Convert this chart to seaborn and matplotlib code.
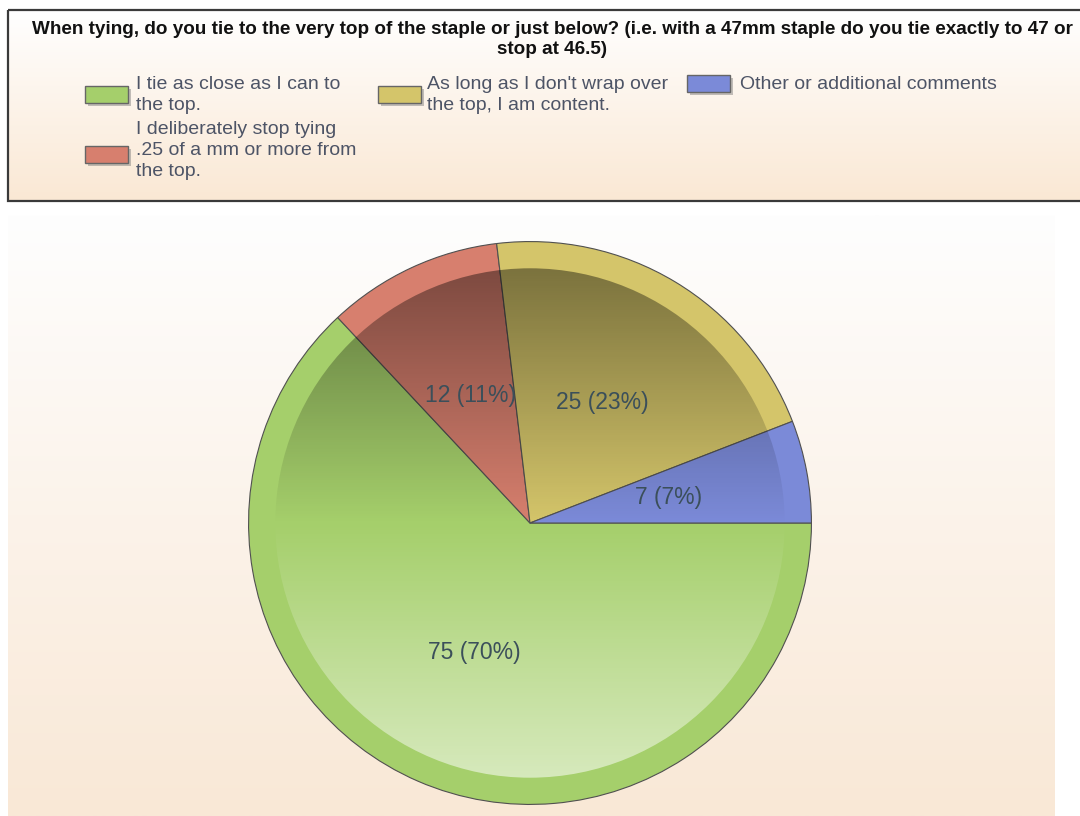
import numpy as np
import matplotlib
matplotlib.use("Agg")
import matplotlib.pyplot as plt
from matplotlib.patches import Rectangle, Circle
from matplotlib.colors import to_rgb
import seaborn as sns

# survey answers (multiple choice, 107 respondents)
answers = [
    "I tie as close as I can to\nthe top.",
    "I deliberately stop tying\n.25 of a mm or more from\nthe top.",
    "As long as I don't wrap over\nthe top, I am content.",
    "Other or additional comments",
]
counts = [75, 12, 25, 7]
respondents = 107
colors = ["#a5cf6b", "#d77f6e", "#d4c56a", "#7b8ad8"]
title = ("When tying, do you tie to the very top of the staple or just below? "
         "(i.e. with a 47mm staple do you tie exactly to 47 or\nstop at 46.5)")

sns.set_theme(style="white")
plt.rcParams["font.family"] = ["Liberation Sans", "DejaVu Sans"]
palette = sns.color_palette(colors)

fig = plt.figure(figsize=(10.8, 8.16), dpi=100)
fig.patch.set_facecolor("white")

# background layer in pixel coords
bg = fig.add_axes([0, 0, 1, 1])
bg.set_xlim(0, 1080)
bg.set_ylim(816, 0)
bg.axis("off")


def vgrad(ax, extent, top, bottom, zorder=0):
    t = np.array(to_rgb(top))
    b = np.array(to_rgb(bottom))
    s = np.linspace(0, 1, 256)[:, None]
    img = (t * (1 - s) + b * s)[:, None, :]
    ax.imshow(img, extent=extent, aspect="auto", zorder=zorder, interpolation="bilinear")


# legend box
vgrad(bg, [8, 1082, 201, 10], "#ffffff", "#fae8d4")
bg.add_patch(Rectangle((8, 10), 1074, 191, fill=False, ec="#3a3a3a", lw=1.6, zorder=2))
# chart area
vgrad(bg, [8, 1055, 816, 215], "#fefefe", "#f9e8d6")
bg.set_xlim(0, 1080)
bg.set_ylim(816, 0)

bg.text(552, 21, title, ha="center", va="top", fontsize=13.6, fontweight="bold",
        color="#111111", linespacing=1.22, zorder=3)

# legend entries: (patch x, patch y, text x, text y)
spots = [(85, 86, 136, 76), (85, 146, 136, 121), (378, 86, 427, 76), (687, 75, 740, 76)]
for (px, py, tx, ty), lab, c in zip(spots, answers, palette):
    bg.add_patch(Rectangle((px + 3, py + 3), 43, 17, fc="#777777", ec="none", alpha=0.45, zorder=3))
    bg.add_patch(Rectangle((px, py), 43, 17, fc=c, ec="#666666", lw=1, zorder=4))
    bg.text(tx, ty, lab, ha="left", va="top", fontsize=14, color="#4d5466",
            linespacing=1.32, zorder=4)

# pie
cx, cy, r = 530, 523, 282
ax = fig.add_axes([(cx - r) / 1080, (816 - cy - r) / 816, 2 * r / 1080, 2 * r / 816])
wedges, _, autotexts = ax.pie(counts, colors=palette, startangle=0, counterclock=False,
                              autopct="", pctdistance=0.5,
                              wedgeprops=dict(edgecolor="#505050", linewidth=0.8))
for t, v in zip(autotexts, counts):
    t.set_text(f"{v} ({round(100 * v / respondents)}%)")
    t.set_fontsize(16.5)
    t.set_color("#3b4f5a")
    t.set_zorder(10)

# inner shading: darker on top, lighter at bottom
ri = 0.905
s = np.linspace(1, -1, 256)
rgba = np.zeros((256, 1, 4))
top = s > 0
rgba[top, 0, 3] = 0.42 * s[top]
rgba[~top, 0, :3] = 1.0
rgba[~top, 0, 3] = 0.55 * (-s[~top])
im = ax.imshow(rgba, extent=[-ri, ri, -ri, ri], aspect="auto", zorder=5, interpolation="bilinear")
im.set_clip_path(Circle((0, 0), ri, transform=ax.transData))
for w in wedges:
    w.set_zorder(1)
ax.set_xlim(-1.002, 1.002)
ax.set_ylim(-1.002, 1.002)
ax.axis("off")

fig.savefig("out.png", dpi=100)
